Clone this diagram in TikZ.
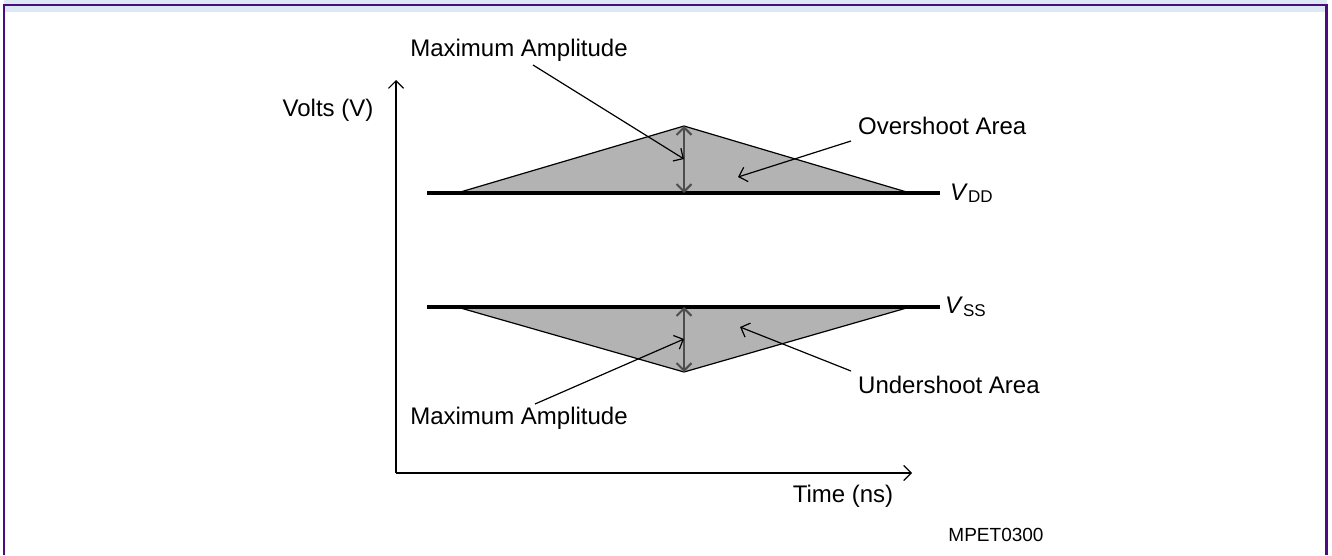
\documentclass[tikz,border=0pt]{standalone}
\usepackage{fontspec}
\setmainfont{Liberation Sans}
\usetikzlibrary{arrows.meta}
\definecolor{bandblue}{HTML}{DCE9F2}
\definecolor{framepurple}{HTML}{4B0C82}
\definecolor{areagray}{HTML}{B3B3B3}
\definecolor{dimgray}{HTML}{4D4D4D}
\tikzset{
  lbl/.style={font=\fontsize{24}{28}\selectfont, inner sep=0pt},
  small/.style={font=\fontsize{19}{22}\selectfont, inner sep=0pt},
  openhead/.style={-{Straight Barb[length=7.5pt,width=15pt]}},
  thinline/.style={line width=1.2pt},
  rail/.style={line width=3.2pt},
  area/.style={fill=areagray, draw=black, line width=1.2pt, line join=miter},
  dimarrow/.style={{Straight Barb[length=7.5pt,width=15pt]}-{Straight Barb[length=7.5pt,width=15pt]}, draw=dimgray, line width=2pt},
  leader/.style={openhead, line width=1.2pt}
}
\begin{document}
\begin{tikzpicture}[x=1pt,y=-1pt]
\useasboundingbox (0,0) rectangle (1332,555);
% frame
\fill[bandblue] (4,0) rectangle (1327,12);
\draw[framepurple, line width=2.2pt] (4,555) -- (4,5) -- (1326.5,5) -- (1326.5,555);

% axes
\coordinate (origin) at (396,473);
\coordinate (ytip) at (396,80);
\coordinate (xtip) at (912,473);
\draw[thinline, openhead] (origin) -- (ytip);
\draw[thinline, openhead] (origin) -- (xtip);

% overshoot
\coordinate (ovL) at (457,193);
\coordinate (ovP) at (684,126);
\coordinate (ovR) at (910,193);
\coordinate (ovB) at (684,193);
\draw[area] (ovL) -- (ovP) -- (ovR) -- cycle;
\coordinate (vddL) at (427,193);
\coordinate (vddR) at (940,193);
\draw[rail] (vddL) -- (vddR);
\draw[dimarrow] (ovB) -- (ovP);

% undershoot
\coordinate (unL) at (457,307);
\coordinate (unP) at (684,372);
\coordinate (unR) at (910,307);
\coordinate (unB) at (684,307);
\draw[area] (unL) -- (unP) -- (unR) -- cycle;
\coordinate (vssL) at (427,307);
\coordinate (vssR) at (940,307);
\draw[rail] (vssL) -- (vssR);
\draw[dimarrow] (unB) -- (unP);

% labels
\node[lbl] (volts) at (328,110) {Volts (V)};
\node[lbl] (time) at (843,496) {Time (ns)};
\node[small] (code) at (996,535) {MPET0300};
\node[lbl, anchor=west] (vdd) at (950,193) {\itshape V\/\upshape\fontsize{17}{20}\selectfont\raisebox{-2.5pt}{DD}};
\node[lbl, anchor=west] (vss) at (945,307) {\itshape V\/\upshape\fontsize{17}{20}\selectfont\raisebox{-2.5pt}{SS}};
\node[lbl] (maxtop) at (519,50) {Maximum Amplitude};
\node[lbl] (maxbot) at (519,418) {Maximum Amplitude};
\node[lbl, anchor=west] (over) at (858,126) {Overshoot Area};
\node[lbl, anchor=west] (under) at (858,385) {Undershoot Area};

% leaders
\coordinate (mtS) at (533,65);
\coordinate (mtE) at (684,159);
\draw[leader] (mtS) -- (mtE);
\coordinate (mbS) at (535,404);
\coordinate (mbE) at (684,339);
\draw[leader] (mbS) -- (mbE);
\coordinate (ovS) at (851,141);
\coordinate (ovE) at (738,177);
\draw[leader] (ovS) -- (ovE);
\coordinate (unS) at (851,371);
\coordinate (unE) at (740,327);
\draw[leader] (unS) -- (unE);
\end{tikzpicture}
\end{document}
